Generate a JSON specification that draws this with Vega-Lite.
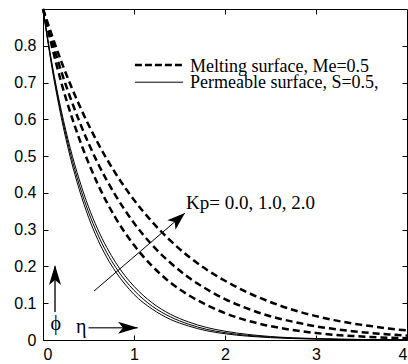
{
  "$schema": "https://vega.github.io/schema/vega-lite/v6.json",
  "width": 364,
  "height": 331,
  "autosize": {"type": "none"},
  "padding": {"left": 43, "top": 9, "right": 1, "bottom": 24},
  "background": "white",
  "config": {
    "view": {"stroke": "black", "strokeWidth": 1},
    "axis": {"grid": false, "domain": false, "title": null, "tickColor": "black", "labelColor": "black", "labelFont": "Liberation Sans", "labelFontSize": 16, "tickSize": -5}
  },
  "datasets": {
    "curves": [
      {"eta":0,"phi":0.9,"curve":"M2"},{"eta":0.2,"phi":0.758,"curve":"M2"},{"eta":0.4,"phi":0.638,"curve":"M2"},{"eta":0.6,"phi":0.537,"curve":"M2"},{"eta":0.8,"phi":0.452,"curve":"M2"},{"eta":1.0,"phi":0.381,"curve":"M2"},{"eta":1.2,"phi":0.321,"curve":"M2"},{"eta":1.4,"phi":0.27,"curve":"M2"},{"eta":1.6,"phi":0.227,"curve":"M2"},{"eta":1.8,"phi":0.191,"curve":"M2"},{"eta":2.0,"phi":0.161,"curve":"M2"},{"eta":2.2,"phi":0.135,"curve":"M2"},{"eta":2.4,"phi":0.113,"curve":"M2"},{"eta":2.6,"phi":0.094,"curve":"M2"},{"eta":2.8,"phi":0.078,"curve":"M2"},{"eta":3.0,"phi":0.065,"curve":"M2"},{"eta":3.2,"phi":0.054,"curve":"M2"},{"eta":3.4,"phi":0.045,"curve":"M2"},{"eta":3.6,"phi":0.038,"curve":"M2"},{"eta":3.8,"phi":0.031,"curve":"M2"},{"eta":4.0,"phi":0.026,"curve":"M2"},
      {"eta":0,"phi":0.9,"curve":"M1"},{"eta":0.2,"phi":0.731,"curve":"M1"},{"eta":0.4,"phi":0.594,"curve":"M1"},{"eta":0.6,"phi":0.482,"curve":"M1"},{"eta":0.8,"phi":0.392,"curve":"M1"},{"eta":1.0,"phi":0.318,"curve":"M1"},{"eta":1.2,"phi":0.258,"curve":"M1"},{"eta":1.4,"phi":0.21,"curve":"M1"},{"eta":1.6,"phi":0.17,"curve":"M1"},{"eta":1.8,"phi":0.138,"curve":"M1"},{"eta":2.0,"phi":0.111,"curve":"M1"},{"eta":2.2,"phi":0.09,"curve":"M1"},{"eta":2.4,"phi":0.072,"curve":"M1"},{"eta":2.6,"phi":0.058,"curve":"M1"},{"eta":2.8,"phi":0.047,"curve":"M1"},{"eta":3.0,"phi":0.037,"curve":"M1"},{"eta":3.2,"phi":0.03,"curve":"M1"},{"eta":3.4,"phi":0.024,"curve":"M1"},{"eta":3.6,"phi":0.019,"curve":"M1"},{"eta":3.8,"phi":0.015,"curve":"M1"},{"eta":4.0,"phi":0.012,"curve":"M1"},
      {"eta":0,"phi":0.9,"curve":"M0"},{"eta":0.2,"phi":0.701,"curve":"M0"},{"eta":0.4,"phi":0.546,"curve":"M0"},{"eta":0.6,"phi":0.425,"curve":"M0"},{"eta":0.8,"phi":0.331,"curve":"M0"},{"eta":1.0,"phi":0.258,"curve":"M0"},{"eta":1.2,"phi":0.201,"curve":"M0"},{"eta":1.4,"phi":0.156,"curve":"M0"},{"eta":1.6,"phi":0.122,"curve":"M0"},{"eta":1.8,"phi":0.095,"curve":"M0"},{"eta":2.0,"phi":0.073,"curve":"M0"},{"eta":2.2,"phi":0.056,"curve":"M0"},{"eta":2.4,"phi":0.043,"curve":"M0"},{"eta":2.6,"phi":0.033,"curve":"M0"},{"eta":2.8,"phi":0.025,"curve":"M0"},{"eta":3.0,"phi":0.019,"curve":"M0"},{"eta":3.2,"phi":0.014,"curve":"M0"},{"eta":3.4,"phi":0.011,"curve":"M0"},{"eta":3.6,"phi":0.008,"curve":"M0"},{"eta":3.8,"phi":0.006,"curve":"M0"},{"eta":4.0,"phi":0.005,"curve":"M0"}
    ],
    "solid": [
      {"eta":0,"phi":0.9,"curve":"P2"},{"eta":0.1,"phi":0.75,"curve":"P2"},{"eta":0.2,"phi":0.625,"curve":"P2"},{"eta":0.3,"phi":0.521,"curve":"P2"},{"eta":0.4,"phi":0.435,"curve":"P2"},{"eta":0.5,"phi":0.362,"curve":"P2"},{"eta":0.6,"phi":0.302,"curve":"P2"},{"eta":0.7,"phi":0.252,"curve":"P2"},{"eta":0.8,"phi":0.21,"curve":"P2"},{"eta":0.9,"phi":0.175,"curve":"P2"},{"eta":1.0,"phi":0.146,"curve":"P2"},{"eta":1.2,"phi":0.101,"curve":"P2"},{"eta":1.4,"phi":0.07,"curve":"P2"},{"eta":1.6,"phi":0.049,"curve":"P2"},{"eta":1.8,"phi":0.034,"curve":"P2"},{"eta":2.0,"phi":0.024,"curve":"P2"},{"eta":2.5,"phi":0.0095,"curve":"P2"},{"eta":3.0,"phi":0.004,"curve":"P2"},{"eta":3.5,"phi":0.0015,"curve":"P2"},{"eta":4.0,"phi":0.0006,"curve":"P2"},
      {"eta":0,"phi":0.9,"curve":"P1"},{"eta":0.1,"phi":0.744,"curve":"P1"},{"eta":0.2,"phi":0.616,"curve":"P1"},{"eta":0.3,"phi":0.509,"curve":"P1"},{"eta":0.4,"phi":0.421,"curve":"P1"},{"eta":0.5,"phi":0.348,"curve":"P1"},{"eta":0.6,"phi":0.288,"curve":"P1"},{"eta":0.7,"phi":0.238,"curve":"P1"},{"eta":0.8,"phi":0.197,"curve":"P1"},{"eta":0.9,"phi":0.163,"curve":"P1"},{"eta":1.0,"phi":0.135,"curve":"P1"},{"eta":1.2,"phi":0.092,"curve":"P1"},{"eta":1.4,"phi":0.063,"curve":"P1"},{"eta":1.6,"phi":0.043,"curve":"P1"},{"eta":1.8,"phi":0.029,"curve":"P1"},{"eta":2.0,"phi":0.02,"curve":"P1"},{"eta":2.5,"phi":0.0078,"curve":"P1"},{"eta":3.0,"phi":0.003,"curve":"P1"},{"eta":3.5,"phi":0.0012,"curve":"P1"},{"eta":4.0,"phi":0.0005,"curve":"P1"},
      {"eta":0,"phi":0.9,"curve":"P0"},{"eta":0.1,"phi":0.738,"curve":"P0"},{"eta":0.2,"phi":0.606,"curve":"P0"},{"eta":0.3,"phi":0.497,"curve":"P0"},{"eta":0.4,"phi":0.408,"curve":"P0"},{"eta":0.5,"phi":0.334,"curve":"P0"},{"eta":0.6,"phi":0.274,"curve":"P0"},{"eta":0.7,"phi":0.225,"curve":"P0"},{"eta":0.8,"phi":0.185,"curve":"P0"},{"eta":0.9,"phi":0.152,"curve":"P0"},{"eta":1.0,"phi":0.124,"curve":"P0"},{"eta":1.2,"phi":0.084,"curve":"P0"},{"eta":1.4,"phi":0.056,"curve":"P0"},{"eta":1.6,"phi":0.038,"curve":"P0"},{"eta":1.8,"phi":0.025,"curve":"P0"},{"eta":2.0,"phi":0.017,"curve":"P0"},{"eta":2.5,"phi":0.0064,"curve":"P0"},{"eta":3.0,"phi":0.0024,"curve":"P0"},{"eta":3.5,"phi":0.0009,"curve":"P0"},{"eta":4.0,"phi":0.0004,"curve":"P0"}
    ],
    "legendDash": [{"x1":1.01,"x2":1.54,"y":0.748}],
    "legendSolid": [{"x1":1.01,"x2":1.54,"y":0.701}],
    "legendText": [
      {"eta":1.615,"phi":0.7295,"label":"Melting surface, Me=0.5"},
      {"eta":1.615,"phi":0.684,"label":"Permeable surface, S=0.5,"}
    ],
    "kpText": [
      {"eta":1.571,"phi":0.356,"label":"Kp= 0.0, 1.0, 2.0"}
    ],
    "greekText": [
      {"eta":0.14,"phi":0.027,"label":"ϕ"},
      {"eta":0.42,"phi":0.019,"label":"η"}
    ],
    "kpArrow": [{"x1":0.56,"y1":0.133,"x2":1.56,"y2":0.345}],
    "phiShaft": [{"x":0.132,"y1":0.076,"y2":0.2}],
    "etaShaft": [{"y":0.033,"x1":0.5,"x2":1.04}],
    "kpHead": [{"eta":1.56,"phi":0.345}],
    "phiHead": [{"eta":0.132,"phi":0.204}],
    "etaHead": [{"eta":1.044,"phi":0.033}]
  },
  "resolve": {"axis": {"x": "independent", "y": "independent"}},
  "layer": [
    {
      "data": {"name": "curves"},
      "mark": {"type": "line", "color": "black", "strokeWidth": 2.5, "strokeDash": [7, 4], "interpolate": "monotone"},
      "encoding": {
        "x": {"field": "eta", "type": "quantitative", "scale": {"domain": [0, 4], "nice": false, "zero": false},
              "axis": {"orient": "bottom", "values": [0, 1, 2, 3, 4], "labelPadding": 11, "format": "~g"}},
        "y": {"field": "phi", "type": "quantitative", "scale": {"domain": [0, 0.9], "nice": false},
              "axis": {"orient": "left", "values": [0, 0.1, 0.2, 0.3, 0.4, 0.5, 0.6, 0.7, 0.8], "labelPadding": 12, "format": "~g"}},
        "detail": {"field": "curve"}
      }
    },
    {
      "data": {"name": "solid"},
      "mark": {"type": "line", "color": "black", "strokeWidth": 1, "interpolate": "monotone"},
      "encoding": {
        "x": {"field": "eta", "type": "quantitative", "axis": {"orient": "top", "values": [1, 2, 3], "labels": false}},
        "y": {"field": "phi", "type": "quantitative", "axis": {"orient": "right", "values": [0.1, 0.2, 0.3, 0.4, 0.5, 0.6, 0.7, 0.8], "labels": false}},
        "detail": {"field": "curve"}
      }
    },
    {
      "data": {"name": "legendDash"},
      "mark": {"type": "rule", "color": "black", "strokeWidth": 2.5, "strokeDash": [7, 3]},
      "encoding": {
        "x": {"field": "x1", "type": "quantitative", "axis": null},
        "x2": {"field": "x2"},
        "y": {"field": "y", "type": "quantitative", "axis": null}
      }
    },
    {
      "data": {"name": "legendSolid"},
      "mark": {"type": "rule", "color": "black", "strokeWidth": 1},
      "encoding": {
        "x": {"field": "x1", "type": "quantitative", "axis": null},
        "x2": {"field": "x2"},
        "y": {"field": "y", "type": "quantitative", "axis": null}
      }
    },
    {
      "data": {"name": "legendText"},
      "mark": {"type": "text", "font": "Liberation Serif", "fontSize": 18, "align": "left", "baseline": "alphabetic", "color": "black"},
      "encoding": {
        "x": {"field": "eta", "type": "quantitative", "axis": null},
        "y": {"field": "phi", "type": "quantitative", "axis": null},
        "text": {"field": "label"}
      }
    },
    {
      "data": {"name": "kpText"},
      "mark": {"type": "text", "font": "Liberation Serif", "fontSize": 19, "align": "left", "baseline": "alphabetic", "color": "black"},
      "encoding": {
        "x": {"field": "eta", "type": "quantitative", "axis": null},
        "y": {"field": "phi", "type": "quantitative", "axis": null},
        "text": {"field": "label"}
      }
    },
    {
      "data": {"name": "greekText"},
      "mark": {"type": "text", "font": "Liberation Serif", "fontSize": 20, "align": "center", "baseline": "alphabetic", "color": "black"},
      "encoding": {
        "x": {"field": "eta", "type": "quantitative", "axis": null},
        "y": {"field": "phi", "type": "quantitative", "axis": null},
        "text": {"field": "label"}
      }
    },
    {
      "data": {"name": "kpArrow"},
      "mark": {"type": "rule", "color": "black", "strokeWidth": 1},
      "encoding": {
        "x": {"field": "x1", "type": "quantitative", "axis": null},
        "y": {"field": "y1", "type": "quantitative", "axis": null},
        "x2": {"field": "x2"},
        "y2": {"field": "y2"}
      }
    },
    {
      "data": {"name": "phiShaft"},
      "mark": {"type": "rule", "color": "#555555", "strokeWidth": 2},
      "encoding": {
        "x": {"field": "x", "type": "quantitative", "axis": null},
        "y": {"field": "y1", "type": "quantitative", "axis": null},
        "y2": {"field": "y2"}
      }
    },
    {
      "data": {"name": "etaShaft"},
      "mark": {"type": "rule", "color": "#444444", "strokeWidth": 1.5},
      "encoding": {
        "x": {"field": "x1", "type": "quantitative", "axis": null},
        "x2": {"field": "x2"},
        "y": {"field": "y", "type": "quantitative", "axis": null}
      }
    },
    {
      "data": {"name": "kpHead"},
      "mark": {"type": "point", "shape": "M0,0 L-0.7,2 L0,1.5 L0.7,2 Z", "filled": true, "color": "black", "opacity": 1, "size": 324, "angle": 49},
      "encoding": {
        "x": {"field": "eta", "type": "quantitative", "axis": null},
        "y": {"field": "phi", "type": "quantitative", "axis": null}
      }
    },
    {
      "data": {"name": "phiHead"},
      "mark": {"type": "point", "shape": "M0,0 L-0.6,2 L0,1.5 L0.6,2 Z", "filled": true, "color": "black", "opacity": 1, "size": 400, "angle": 0},
      "encoding": {
        "x": {"field": "eta", "type": "quantitative", "axis": null},
        "y": {"field": "phi", "type": "quantitative", "axis": null}
      }
    },
    {
      "data": {"name": "etaHead"},
      "mark": {"type": "point", "shape": "M0,0 L-0.6,2 L0,1.5 L0.6,2 Z", "filled": true, "color": "black", "opacity": 1, "size": 400, "angle": 90},
      "encoding": {
        "x": {"field": "eta", "type": "quantitative", "axis": null},
        "y": {"field": "phi", "type": "quantitative", "axis": null}
      }
    }
  ]
}
